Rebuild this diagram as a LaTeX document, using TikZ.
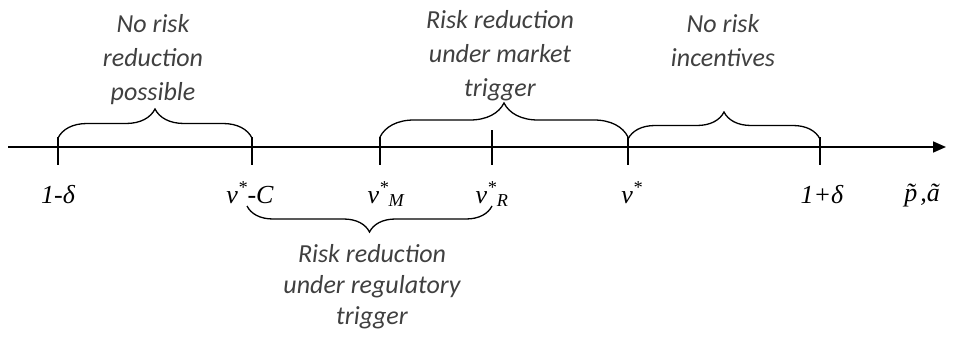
\documentclass[tikz,border=0pt]{standalone}
\usepackage{fontspec}
\setmainfont{Liberation Serif}
\newfontfamily\lblfont{Carlito}
\usetikzlibrary{decorations.pathreplacing,arrows.meta}
\begin{document}
\begin{tikzpicture}[x=1pt,y=-1pt,
  axisline/.style={line width=1.6pt,-{Triangle[length=13pt,width=11pt]}},
  tickline/.style={line width=1.2pt},
  bracestyle/.style={line width=1.3pt,decorate,decoration={brace,amplitude=#1}},
  bracestyle/.default=28pt,
  grouplbl/.style={font=\lblfont\itshape\fontsize{26}{34}\selectfont,text=black!75,align=center,inner sep=0pt,anchor=north},
  mathlbl/.style={font=\itshape\fontsize{26}{30}\selectfont,inner sep=0pt,anchor=base}]
\useasboundingbox (0,0) rectangle (954,337);
% axis
\coordinate (axstart) at (8,147);
\coordinate (axend) at (946,147);
\draw[axisline] (axstart) -- (axend);
% tick points
\coordinate (t1) at (58,147);
\coordinate (t2) at (252,147);
\coordinate (t3) at (380,147);
\coordinate (t4) at (492,147);
\coordinate (t5) at (628,147);
\coordinate (t6) at (820,147);
\foreach \t/\up in {t1/137,t2/137,t3/137,t4/130,t5/137,t6/137}{
  \draw[tickline] (\t |- 0,\up) -- (\t |- 0,165);
}
% top braces
\draw[bracestyle=29pt] (58,138) -- (252,138);
\draw[bracestyle=34pt] (380,137) -- (628,137);
\draw[bracestyle=27pt] (628,139) -- (820,139);
% bottom brace
\draw[bracestyle=26pt] (492,206) -- (247,206);
% group labels
\node[grouplbl] (g1) at (153,14) {No risk\\reduction\\possible};
\node[grouplbl] (g2) at (500,10) {Risk reduction\\under market\\trigger};
\node[grouplbl] (g3) at (723,14) {No risk\\incentives};
\node[grouplbl,font=\lblfont\itshape\fontsize{26}{31}\selectfont] (g4) at (372,244) {Risk reduction\\under regulatory\\trigger};
% axis labels
\node[mathlbl] (l1) at (58,203) {1-δ};
\node[mathlbl] (l2) at (250,203) {v\textsuperscript{*}-C};
\node[mathlbl] (l3) at (386,203) {v\textsuperscript{*}\textsubscript{M}};
\node[mathlbl] (l4) at (492,203) {v\textsuperscript{*}\textsubscript{R}};
\node[mathlbl] (l5) at (632,203) {v\textsuperscript{*}};
\node[mathlbl] (l6) at (822,203) {1+δ};
\node[mathlbl] (l7) at (922,201) {\~{p}\hspace{3pt},\~{a}};
\end{tikzpicture}
\end{document}
